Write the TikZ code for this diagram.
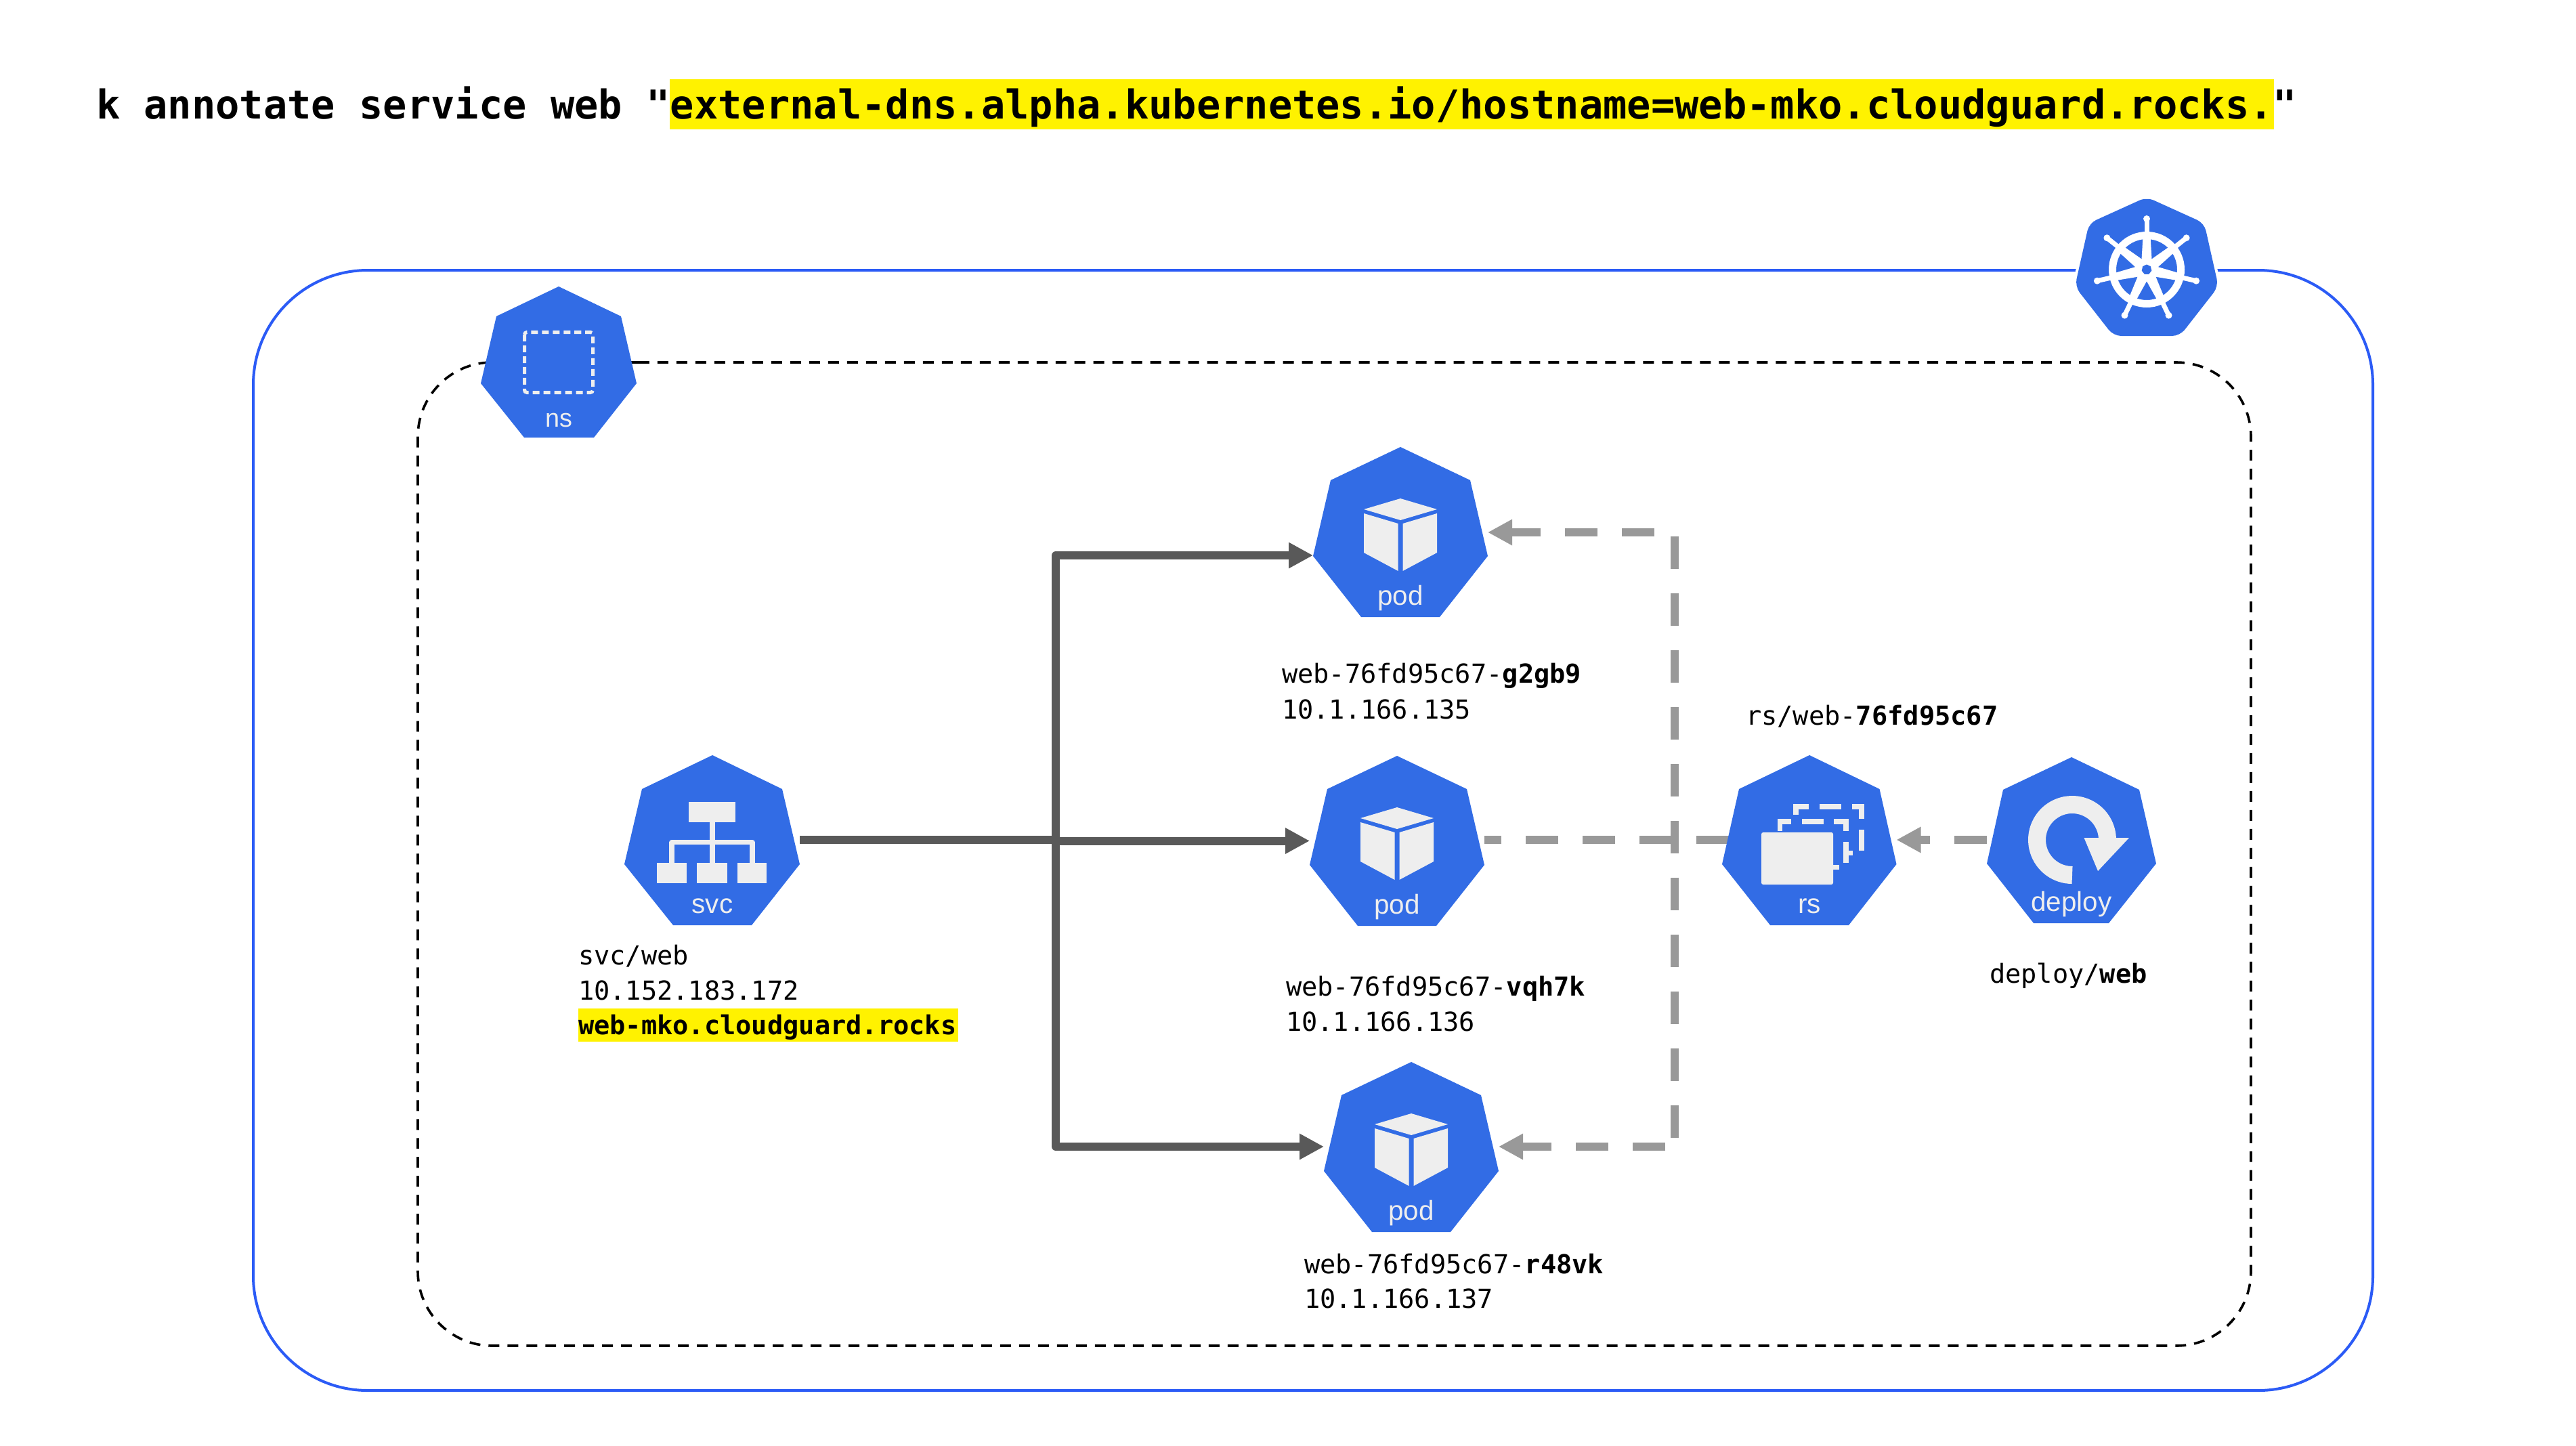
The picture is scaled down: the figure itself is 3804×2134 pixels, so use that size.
\documentclass[tikz,border=0pt]{standalone}
\usepackage{fontspec}
\setmainfont{Liberation Sans}
\newfontfamily\codefont{DejaVu Sans Mono}
\usetikzlibrary{arrows.meta}
\definecolor{kblue}{HTML}{326CE5}
\definecolor{iconw}{HTML}{EEEEEE}
\definecolor{boxblue}{HTML}{2B5BF6}
\definecolor{darkln}{HTML}{595959}
\definecolor{grayln}{HTML}{999999}
\def\px{0.56905pt}
\tikzset{
  x=0.02cm, y=-0.02cm,
  port/.style 2 args={inner sep=0pt, outer sep=0pt, minimum width=#1*\px, minimum height=#2*\px},
  darkconn/.style={draw=darkln, line width=6.83pt, line join=round, -{Triangle[length=20.5pt,width=20.5pt]}},
  darkplain/.style={draw=darkln, line width=6.83pt, line join=round},
  graydash/.style={draw=grayln, line width=6.83pt, dash pattern=on 27.31pt off 20.49pt},
  grayarrow/.style={graydash, -{Triangle[length=20.5pt,width=20.5pt]}},
  outerbox/.style={draw=boxblue, line width=2.28pt, rounded corners=96.2pt},
  nsbox/.style={draw=black, line width=2.05pt, rounded corners=62.6pt, dash pattern=on 9.1pt off 6.83pt},
  codetext/.style={anchor=base west, inner sep=0pt, outer sep=0pt, font=\codefont\fontsize{22}{26}\selectfont, text=black},
  cmdtext/.style={anchor=base west, inner sep=0pt, outer sep=0pt, font=\codefont\bfseries\fontsize{33.4}{40}\selectfont, text=black},
  icontext/.style={anchor=base, inner sep=0pt, outer sep=0pt, font=\fontsize{23}{26}\selectfont, text=iconw},
}
\newcommand{\podshape}[3]{%
  \begin{scope}[shift={(#1,#2)}]
    \fill[kblue] (0,0)--(103,49)--(129,161)--(58,251)--(-58,251)--(-129,161)--(-103,49)--cycle;
    \fill[iconw] (0,76)--(54,92)--(0,108)--(-54,92)--cycle;
    \fill[iconw] (-54,98)--(-3.5,113)--(-3.5,183)--(-54,156)--cycle;
    \fill[iconw] (54,98)--(3.5,113)--(3.5,183)--(54,156)--cycle;
    \node[icontext] (#3) at (0,233) {pod};
  \end{scope}}
\begin{document}
\begin{tikzpicture}
\useasboundingbox (0,0) rectangle (3804,2134);
\fill[white] (0,0) rectangle (3804,2134);

% containers
\draw[outerbox] (374,399) rectangle (3504,2053);
\draw[nsbox] (943,535) -- (3324,535) -- (3324,1987) -- (617,1987) -- (617,535) -- (943,535);

% invisible ports
\node[port={258}{251}] (pod1) at (2068,785.5) {};
\node[port={258}{251}] (pod2) at (2063,1241.5) {};
\node[port={258}{251}] (pod3) at (2084,1693.5) {};
\node[port={259}{251}] (svc) at (1051.5,1240.5) {};
\node[port={257.5}{251}] (rs) at (2671.75,1240.5) {};
\node[port={250}{245}] (deploy) at (3059,1240.5) {};

% service connectors
\coordinate (trunkL) at (1559,1240);
\coordinate (trunkT) at (1559,820);
\coordinate (trunkB) at (1559,1693);
\coordinate (trunkM) at (1559,1241.5);
\draw[darkplain] (svc.east |- trunkL) -- (trunkL);
\draw[darkconn] (trunkL) -- (trunkT) -- (pod1.west |- trunkT);
\draw[darkconn] (trunkM) -- (pod2.west |- trunkM);
\draw[darkconn] (trunkL) -- (trunkB) -- (pod3.west |- trunkB);

% owner connectors
\coordinate (ownTop) at (2443,786);
\coordinate (ownBot) at (2459,1693);
\coordinate (vTop) at (2473,792);
\coordinate (vBot) at (2473,1680);
\coordinate (rsIn) at (2553,1240);
\coordinate (depY) at (3000,1240);
\draw[graydash] (vTop) -- (vBot);
\draw[grayarrow] (ownTop) -- (pod1.east |- ownTop);
\draw[grayarrow] (ownBot) -- (pod3.east |- ownBot);
\draw[graydash] (rsIn) -- (pod2.east |- rsIn);
\draw[grayarrow] (deploy.west |- depY) -- (rs.east |- depY);

% kubernetes badge
\draw[white, line width=4.6pt, line join=round]
  (3170,291)--(3255,329.5)--(3276,423)--(3219,496)--(3121,496)--(3064,423)--(3085,329.5)--cycle;
\fill[kblue, rounded corners=6.5pt]
  (3170,291)--(3255,329.5)--(3276,423)--(3219,496)--(3121,496)--(3064,423)--(3085,329.5)--cycle;
\begin{scope}[shift={(3170,398)}]
  \draw[white, line width=6.26pt] (0,0) circle[radius=50.5];
  \foreach \a in {-90,-38.57,12.86,64.29,115.71,167.14,218.57} {
    \fill[white] ({\a-26.6}:16.8)--({\a-7}:46.4)--({\a+7}:46.4)--({\a+26.6}:16.8)--cycle;
    \draw[white, line width=4pt, line cap=round] (\a:52) -- (\a:73);
    \fill[white] (\a:75) circle[radius=5];
  }
  \fill[white] (0,0) circle[radius=17];
  \fill[kblue] plot[samples=8, domain=-90:270] (\x:7.5) -- cycle;
\end{scope}

% ns badge
\fill[kblue] (825,423)--(917,467)--(940,566)--(877,646)--(774,646)--(710,566)--(733,467)--cycle;
\draw[iconw, line width=2.85pt, dash pattern=on 5.7pt off 3.4pt, rounded corners=2pt]
  (774.5,490.5) rectangle (875.5,579.5);
\node[icontext, font=\fontsize{21.5}{24}\selectfont] (nstext) at (825,630) {ns};

% svc badge
\fill[kblue] (1052,1115)--(1155,1165)--(1181,1276)--(1110,1366)--(994,1366)--(922,1276)--(948,1165)--cycle;
\fill[iconw] (1017,1184) rectangle (1086,1214);
\draw[iconw, line width=4pt, line join=round] (992,1274)--(992,1243.5)--(1111,1243.5)--(1111,1274);
\draw[iconw, line width=4.5pt] (1052,1214)--(1052,1274);
\fill[iconw] (970,1274) rectangle (1014,1304);
\fill[iconw] (1029,1274) rectangle (1074,1304);
\fill[iconw] (1089,1274) rectangle (1132,1304);
\node[icontext] (svctext) at (1052,1348) {svc};

% pods
\podshape{2068}{660}{podtexta}
\podshape{2063}{1116}{podtextb}
\podshape{2084}{1568}{podtextc}

% rs badge
\fill[kblue] (2672,1115)--(2775.5,1165)--(2800.5,1276)--(2730,1366)--(2614,1366)--(2543,1276)--(2568,1165)--cycle;
\fill[iconw, rounded corners=1.5pt] (2601,1229) rectangle (2707,1306);
\begin{scope}[iconw, line width=4.4pt]
  \draw (2628.5,1227)--(2628.5,1213)--(2645,1213);
  \draw (2661,1213)--(2693,1213);
  \draw (2708,1213)--(2726,1213)--(2726,1227);
  \draw (2726,1243)--(2726,1274);
  \draw (2707,1280.5)--(2716,1280.5);
  \draw (2652,1203)--(2652,1191)--(2671,1191);
  \draw (2687,1191)--(2719,1191);
  \draw (2735,1191)--(2749,1191)--(2749,1209);
  \draw (2749,1225)--(2749,1256);
  \draw (2730,1259.5)--(2736,1259.5);
\end{scope}
\node[icontext] (rstext) at (2672,1348) {rs};

% deploy badge
\fill[kblue] (3059,1118)--(3159,1166)--(3184,1275)--(3114,1363)--(3003,1363)--(2934,1275)--(2958,1166)--cycle;
\draw[iconw, line width=14.8pt] plot[samples=60, domain=90:360] ({3060+52*cos(\x)},{1240+52*sin(\x)});
\fill[iconw] (3077.5,1237)--(3144,1237)--(3098,1286)--cycle;
\node[icontext] (deploytext) at (3059,1345) {deploy};

% highlights
\fill[yellow] (989,117) rectangle (3358,191);
\fill[yellow] (854,1489) rectangle (1415,1538);

% texts
\node[cmdtext] (cmd) at (142,175) {k annotate service web "external-dns.alpha.kubernetes.io/hostname=web-mko.cloudguard.rocks."};
\node[codetext] (svcname) at (854,1424) {svc/web};
\node[codetext] (svcip) at (854,1476) {10.152.183.172};
\node[codetext] (svcdns) at (854,1527) {\bfseries web-mko.cloudguard.rocks};
\node[codetext] (podaname) at (1893,1008) {web-76fd95c67-{\bfseries g2gb9}};
\node[codetext] (podaip) at (1893,1061) {10.1.166.135};
\node[codetext] (podbname) at (1899,1470) {web-76fd95c67-{\bfseries vqh7k}};
\node[codetext] (podbip) at (1899,1522) {10.1.166.136};
\node[codetext] (podcname) at (1926,1880) {web-76fd95c67-{\bfseries r48vk}};
\node[codetext] (podcip) at (1926,1931) {10.1.166.137};
\node[codetext] (rsname) at (2578,1070) {rs/web-{\bfseries 76fd95c67}};
\node[codetext] (depname) at (2938,1451) {deploy/{\bfseries web}};
\end{tikzpicture}
\end{document}
